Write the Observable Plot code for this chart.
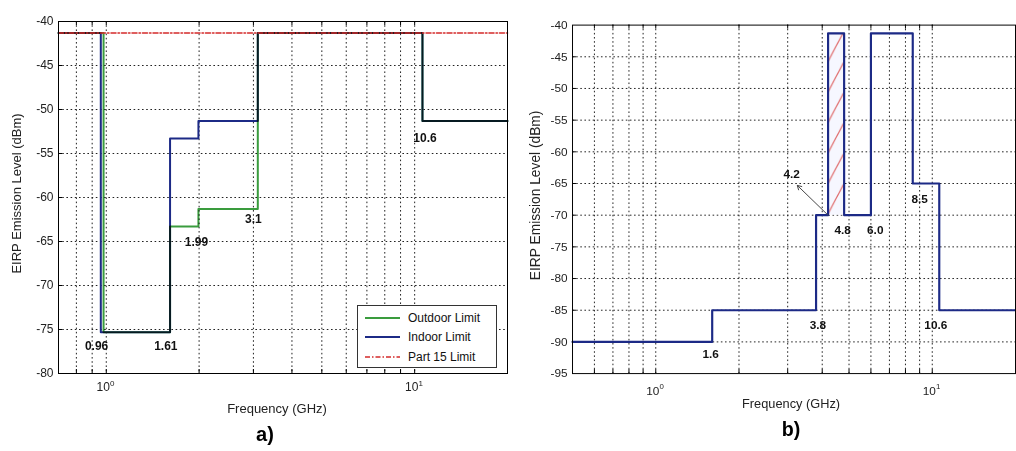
<!DOCTYPE html>
<html><head><meta charset="utf-8">
<script src="https://cdn.jsdelivr.net/npm/d3@7"></script>
<script src="https://cdn.jsdelivr.net/npm/@observablehq/plot@0.6"></script>
<style>
body{margin:0;background:#fff;}
#wrap{position:relative;width:1016px;height:451px;overflow:hidden;background:#fff;font-family:"Liberation Sans",Arial,sans-serif;}
#a{position:absolute;left:0;top:0;}
#b{position:absolute;left:510px;top:0;}
#leg{position:absolute;left:357px;top:305px;}
</style></head><body><div id="wrap"><div id="a"></div><div id="b"></div><div id="leg"></div></div>
<script>
// ---------- Panel a data ----------
const gridXA = [0.7,0.8,0.9,1,2,3,4,5,6,7,8,9,10,20];
const gridYA = [-45,-50,-55,-60,-65,-70,-75];
const yTicksA = [-40,-45,-50,-55,-60,-65,-70,-75,-80];
const decadeTicks = [1,10];
const decadeExp = ["0","1"];

const outdoorFreq  = [0.7, 0.98, 1.61, 1.99, 3.1, 10.6, 20];
const outdoorLevel = [-41.3, -75.3, -63.3, -61.3, -41.3, -51.3, -51.3];
const indoorFreq   = [0.7, 0.96, 1.61, 1.99, 3.1, 10.6, 20];
const indoorLevel  = [-41.3, -75.3, -53.3, -51.3, -41.3, -51.3, -51.3];
const part15Freq   = [0.7, 20];
const part15Level  = [-41.3, -41.3];

const labelTextA  = ["0.96","1.61","1.99","3.1","10.6"];
const labelFreqA  = [0.93, 1.56, 1.96, 3.0, 10.8];
const labelLevelA = [-76.9, -76.9, -65.1, -62.5, -53.3];

const legendNames = ["Outdoor Limit","Indoor Limit","Part 15 Limit"];

// ---------- Panel b data ----------
const gridXB = [0.6,0.7,0.8,0.9,1,2,3,4,5,6,7,8,9,10];
const gridYB = [-45,-50,-55,-60,-65,-70,-75,-80,-85,-90];
const yTicksB = [-40,-45,-50,-55,-60,-65,-70,-75,-80,-85,-90,-95];
const maskFreq  = [0.5, 1.6, 3.8, 4.2, 4.8, 6.0, 8.5, 10.6, 20];
const maskLevel = [-90, -85, -70, -41.3, -70, -41.3, -65, -85, -85];
const hatchFreq  = [4.2, 4.8];
const hatchLevel = [-70, -41.3];
const labelTextB  = ["1.6","3.8","10.6","4.8","6.0","8.5","4.2"];
const labelFreqB  = [1.58, 3.86, 10.3, 4.74, 6.22, 9.0, 3.10];
const labelLevelB = [-92.0, -87.4, -87.4, -72.3, -72.3, -67.5, -63.6];
const arrowFreq  = [4.2, 3.25];
const arrowLevel = [-70, -65.3];

// ---------- styles ----------
const BLUE = "#1c2a86", GREEN = "#3a9c3e", RED = "#d42a2a";
const font = "'Liberation Sans', Arial, sans-serif";
const gridStyle = {stroke:"#222", strokeWidth:1, strokeDasharray:"1.6,2.6"};

function idx(a){ return a.map((_, i) => i); }

function basePanel({width, height, mL, mR, mT, mB, xDomain, yDomain, gridX, gridY, yTicks, xPad, titleDy, title, xLabelDx, titleDx, yLabelDx, yLabelSize, extra}) {
  const plotW = width - mL - mR, plotH = height - mT - mB;
  return Plot.plot({
    width, height, marginLeft: mL, marginRight: mR, marginTop: mT, marginBottom: mB,
    style: {fontFamily: font, fontSize: "12px", background: "transparent", overflow: "visible"},
    x: {type: "log", domain: xDomain},
    y: {domain: yDomain},
    marks: [
      Plot.ruleX(gridX, {x: d => d, ...gridStyle}),
      Plot.ruleY(gridY, {y: d => d, ...gridStyle}),
      Plot.tickX(gridX, {x: d => d, stroke:"#000", insetBottom: plotH - 4}),
      Plot.tickX(gridX, {x: d => d, stroke:"#000", insetTop: plotH - 4}),
      Plot.tickY(gridY, {y: d => d, stroke:"#000", insetRight: plotW - 4}),
      ...extra,
      Plot.frame({stroke: "#000", strokeWidth: 1}),
      Plot.axisY(yTicks, {tickSize: 0, tickPadding: 5, tickFormat: d => String(d), fontSize: 12, fill: "#222", label: null}),
      Plot.axisX(decadeTicks, {tickSize: 0, tickPadding: xPad, tickFormat: () => "10", dx: -3, fontSize: 12, fill: "#222", label: null}),
      Plot.text(decadeTicks, {x: d => d, text: (d, i) => decadeExp[i], frameAnchor: "bottom", dx: 6, dy: xPad + 3, fontSize: 8, fill: "#222"}),
      Plot.text(["Frequency (GHz)"], {frameAnchor: "bottom", dx: xLabelDx, dy: titleDy - 26, fontSize: 13, fill: "#222"}),
      Plot.text([title], {frameAnchor: "bottom", dx: titleDx, dy: titleDy + 2, fontSize: 20, fontWeight: "bold"}),
      Plot.text(["EIRP Emission Level (dBm)"], {frameAnchor: "left", textAnchor: "middle", rotate: -90, dx: yLabelDx, dy: -4, fontSize: yLabelSize, fill: "#222"})
    ]
  });
}

// ---------- Panel a ----------
const chartA = basePanel({
  width: 510, height: 451, mL: 58, mR: 3, mT: 21, mB: 78,
  xDomain: [0.7, 20], yDomain: [-80, -40],
  gridX: gridXA.slice(1, -1), gridY: gridYA, yTicks: yTicksA, xPad: 9,
  title: "a)", titleDy: 65, titleDx: -18, xLabelDx: -6, yLabelDx: -42, yLabelSize: 13,
  extra: [
    Plot.line(idx(indoorFreq), {x: indoorFreq, y: indoorLevel, curve: "step-after", stroke: BLUE, strokeWidth: 2}),
    Plot.line(idx(outdoorFreq), {x: outdoorFreq, y: outdoorLevel, curve: "step-after", stroke: GREEN, strokeWidth: 2, mixBlendMode: "multiply"}),
    Plot.line(idx(part15Freq), {x: part15Freq, y: part15Level, stroke: RED, strokeWidth: 1.5, strokeDasharray: "5,2,1.5,2"}),
    Plot.text(labelTextA, {x: labelFreqA, y: labelLevelA, text: d => d, fontSize: 12, fontWeight: "bold", fill: "#111"})
  ]
});
document.getElementById("a").appendChild(chartA);

// legend for panel a
(function(){
  const w = 140, h = 63;
  const svg = d3.select("#leg").append("svg").attr("width", w).attr("height", h)
    .style("font-family", font).style("font-size", "12px");
  svg.append("rect").attr("x", 0.5).attr("y", 0.5).attr("width", w - 1).attr("height", h - 1)
    .attr("fill", "#fff").attr("stroke", "#333");
  const cols = [GREEN, BLUE, RED];
  const rows = [13, 32, 52];
  legendNames.forEach((n, i) => {
    svg.append("line").attr("x1", 8).attr("x2", 43).attr("y1", rows[i]).attr("y2", rows[i])
      .attr("stroke", cols[i]).attr("stroke-width", i === 2 ? 1.5 : 2)
      .attr("stroke-dasharray", i === 2 ? "5,2,1.5,2" : null);
    svg.append("text").attr("x", 51).attr("y", rows[i]).attr("dy", "0.35em").attr("fill", "#111").text(n);
  });
})();

// ---------- Panel b ----------
const chartB = basePanel({
  width: 514, height: 451, mL: 63, mR: 1, mT: 25, mB: 72,
  xDomain: [0.5, 20], yDomain: [-95, -40],
  gridX: gridXB, gridY: gridYB, yTicks: yTicksB, xPad: 13,
  title: "b)", titleDy: 61, titleDx: -3, xLabelDx: -3, yLabelDx: -38, yLabelSize: 14,
  extra: [
    Plot.rect([0], {x1: hatchFreq[0], x2: hatchFreq[1], y1: hatchLevel[0], y2: hatchLevel[1], fill: "url(#hatchB)"}),
    Plot.line(idx(maskFreq), {x: maskFreq, y: maskLevel, curve: "step-after", stroke: BLUE, strokeWidth: 2.2}),
    Plot.arrow([0], {x1: arrowFreq[0], y1: arrowLevel[0], x2: arrowFreq[1], y2: arrowLevel[1], stroke: "#444", strokeWidth: 1, headLength: 7}),
    Plot.text(labelTextB, {x: labelFreqB, y: labelLevelB, text: d => d, fontSize: 12, fontWeight: "bold", fill: "#111"})
  ]
});
document.getElementById("b").appendChild(chartB);

// hatch pattern sized from the chart's own scales
(function(){
  const xs = chartB.scale("x"), ys = chartB.scale("y");
  const x0 = xs.apply(hatchFreq[0]), x1 = xs.apply(hatchFreq[1]);
  const y0 = ys.apply(hatchLevel[0]);
  const w = x1 - x0, h = w * 1.9;
  const ns = "http://www.w3.org/2000/svg";
  const defs = document.createElementNS(ns, "defs");
  const pat = document.createElementNS(ns, "pattern");
  pat.setAttribute("id", "hatchB");
  pat.setAttribute("patternUnits", "userSpaceOnUse");
  pat.setAttribute("x", x0); pat.setAttribute("y", y0);
  pat.setAttribute("width", w); pat.setAttribute("height", h);
  const bg = document.createElementNS(ns, "rect");
  bg.setAttribute("width", w); bg.setAttribute("height", h); bg.setAttribute("fill", "#f6f7ff");
  const ln = document.createElementNS(ns, "line");
  ln.setAttribute("x1", 0); ln.setAttribute("y1", h); ln.setAttribute("x2", w); ln.setAttribute("y2", 0);
  ln.setAttribute("stroke", "#e06a6a"); ln.setAttribute("stroke-width", 1.2);
  pat.appendChild(bg); pat.appendChild(ln); defs.appendChild(pat);
  chartB.insertBefore(defs, chartB.firstChild);
})();
</script></body></html>
